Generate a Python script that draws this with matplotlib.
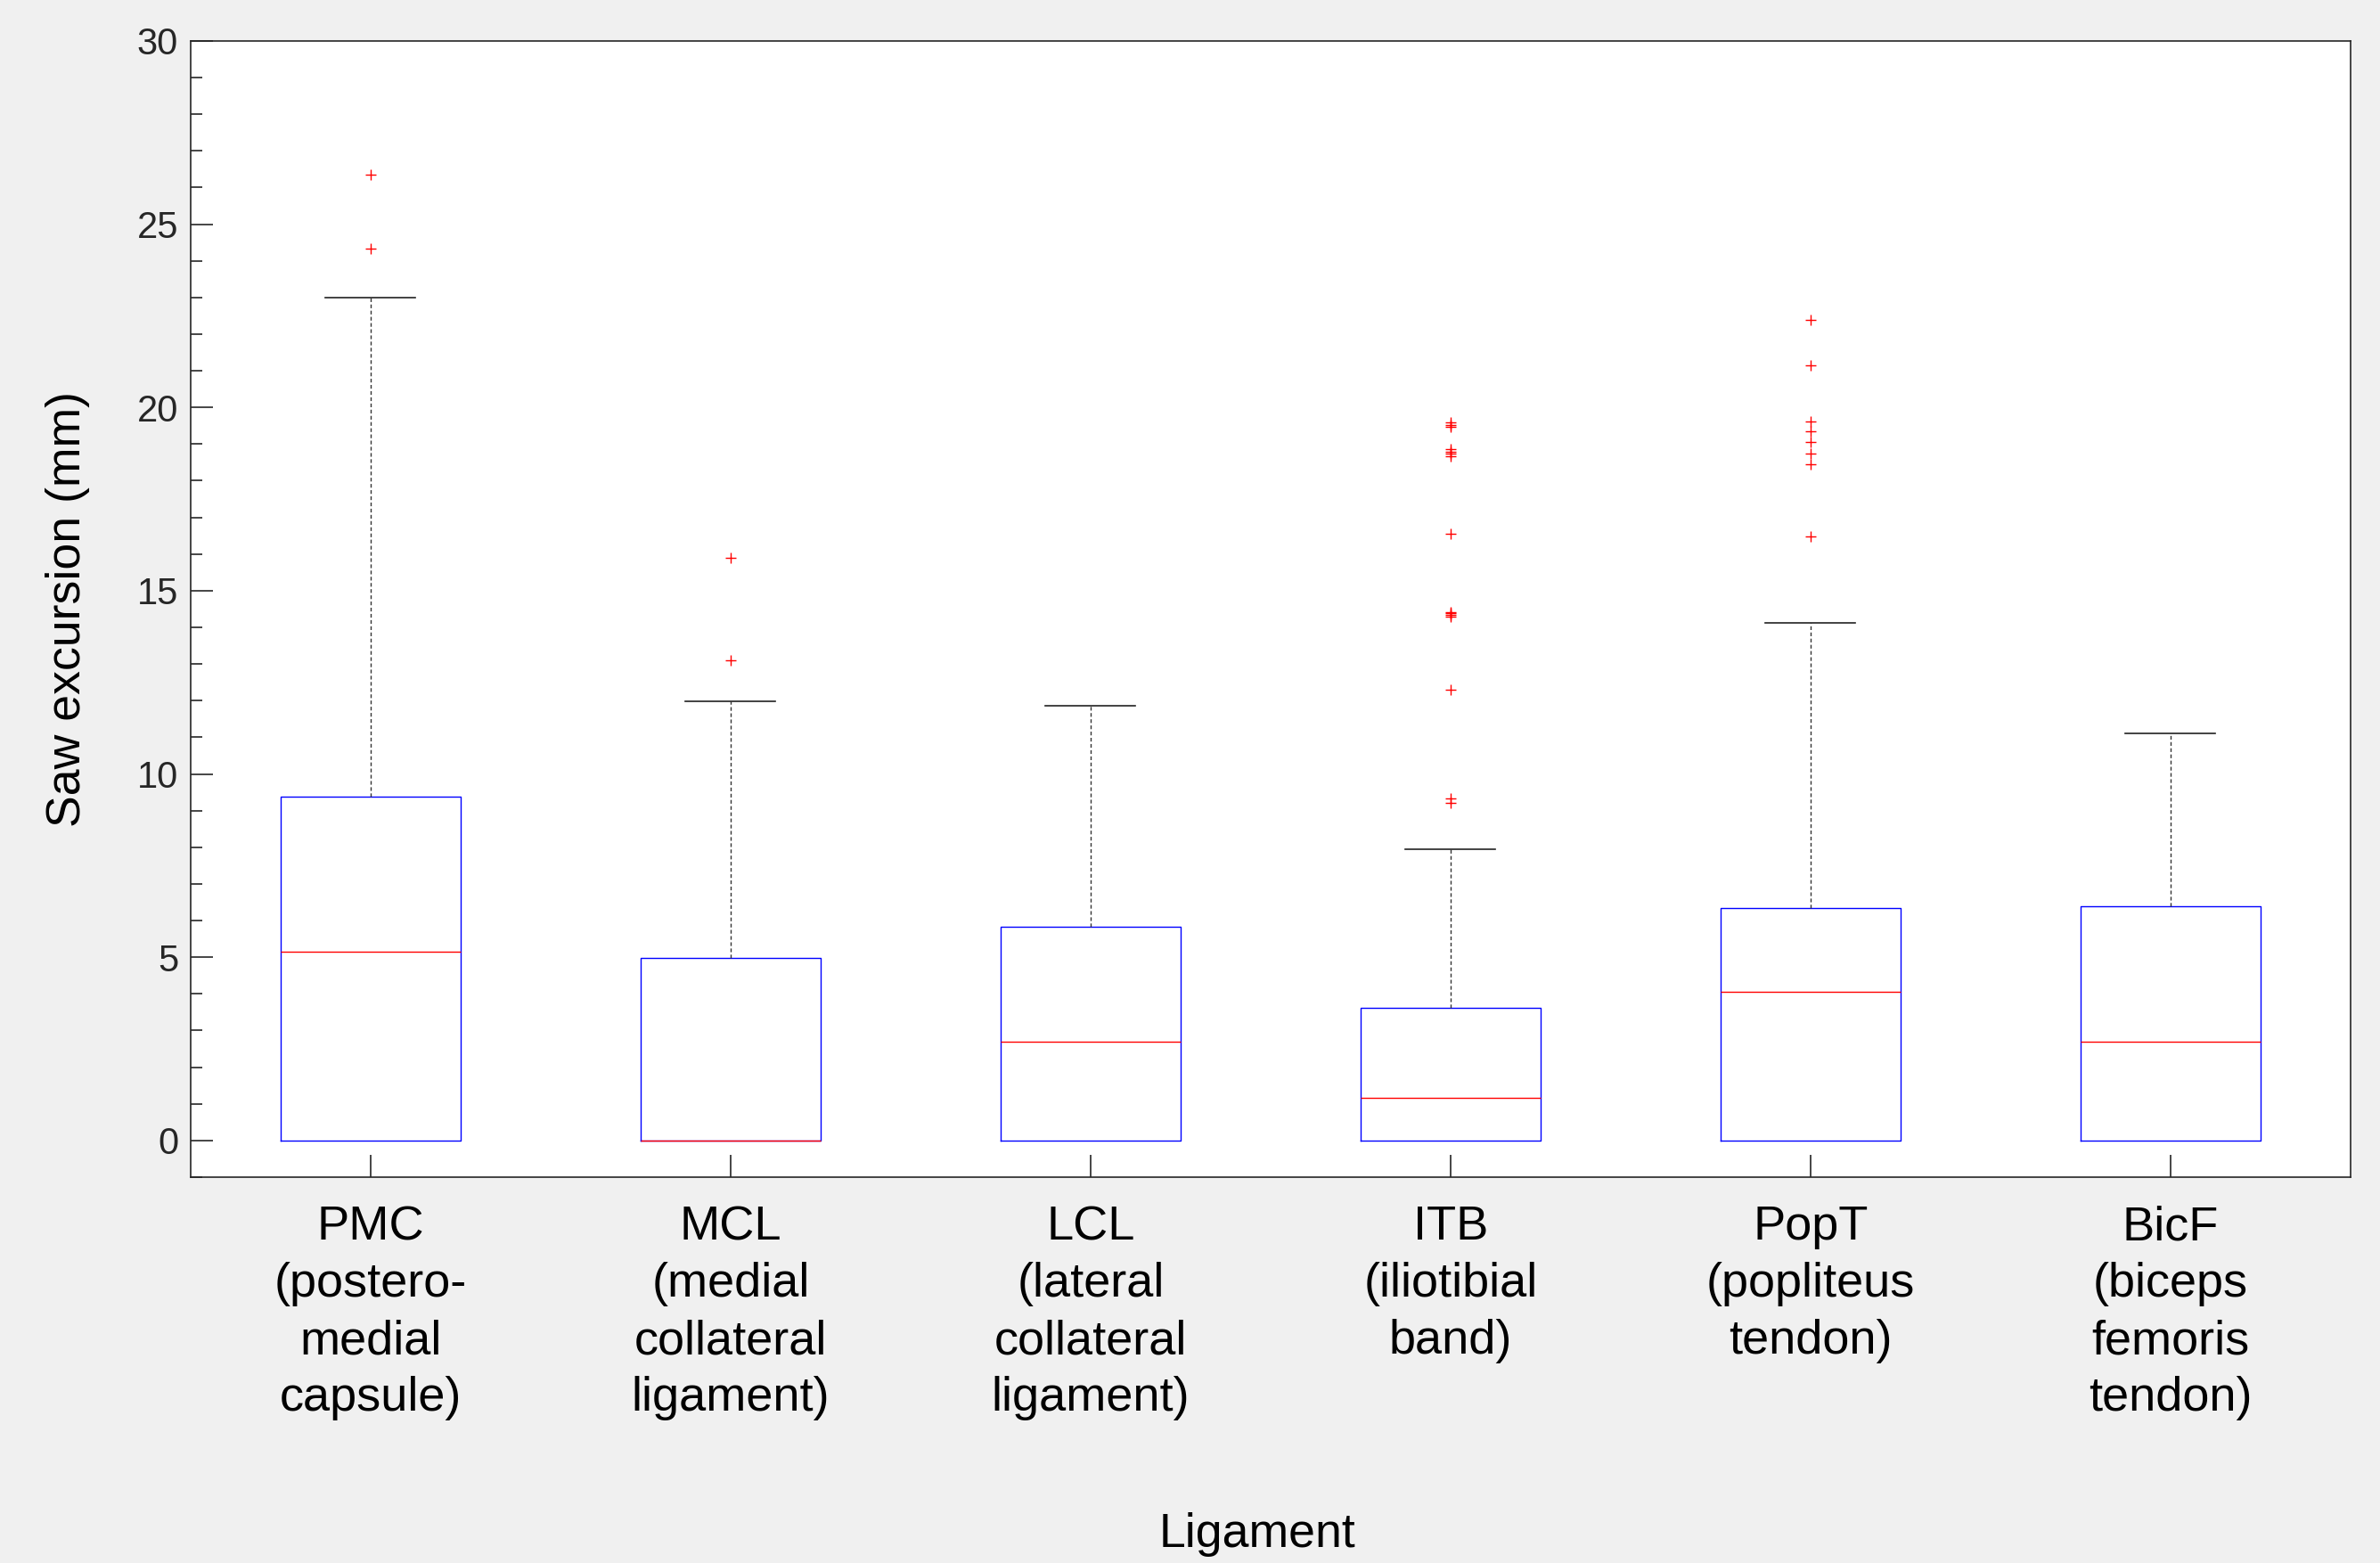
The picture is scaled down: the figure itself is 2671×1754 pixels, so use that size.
import matplotlib
matplotlib.use("Agg")
import matplotlib.pyplot as plt
from matplotlib.ticker import MultipleLocator

plt.rcParams["font.family"] = ["Liberation Sans", "DejaVu Sans"]

# ligament labels (x axis)
LABELS = [
    "PMC\n(postero-\nmedial\ncapsule)",
    "MCL\n(medial\ncollateral\nligament)",
    "LCL\n(lateral\ncollateral\nligament)",
    "ITB\n(iliotibial\nband)",
    "PopT\n(popliteus\ntendon)",
    "BicF\n(biceps\nfemoris\ntendon)",
]

# box statistics (mm)
Q1 = [0.0, 0.0, 0.0, 0.0, 0.0, 0.0]
MEDIAN = [5.14, 0.0, 2.69, 1.16, 4.06, 2.69]
Q3 = [9.37, 4.98, 5.84, 3.61, 6.34, 6.38]
WHISK_LO = [0.0, 0.0, 0.0, 0.0, 0.0, 0.0]
WHISK_HI = [22.99, 11.99, 11.85, 7.94, 14.11, 11.11]

# outliers
FLIERS_PMC = [26.34, 24.33]
FLIERS_MCL = [15.9, 13.09]
FLIERS_LCL = []
FLIERS_ITB = [19.60, 19.53, 19.47, 18.86, 18.80, 18.75, 18.68, 16.55,
              14.42, 14.38, 14.34, 14.30, 12.30, 9.34, 9.22]
FLIERS_POPT = [22.38, 21.15, 19.62, 19.34, 19.05, 18.75, 18.46, 16.47]
FLIERS_BICF = []
FLIERS = [FLIERS_PMC, FLIERS_MCL, FLIERS_LCL, FLIERS_ITB, FLIERS_POPT, FLIERS_BICF]

stats = []
for i in range(len(LABELS)):
    stats.append(dict(med=MEDIAN[i], q1=Q1[i], q3=Q3[i],
                      whislo=WHISK_LO[i], whishi=WHISK_HI[i],
                      fliers=FLIERS[i], label=LABELS[i]))

fig = plt.figure(figsize=(13.355, 8.77), dpi=200, facecolor="#f0f0f0")
ax = fig.add_axes([0.0801, 0.2469, 0.9075, 0.7269])
ax.set_facecolor("white")

parts = ax.bxp(
    stats, widths=0.5,
    boxprops=dict(color="#0000ff", linewidth=0.5),
    medianprops=dict(color="#ff0000", linewidth=0.5),
    whiskerprops=dict(color="#333333", linewidth=0.5, linestyle=(0, (3, 2))),
    capprops=dict(color="#222222", linewidth=0.6),
    flierprops=dict(marker="+", markeredgecolor="#ff0000", markersize=4.6,
                    markeredgewidth=0.5, linestyle="none"),
    capwidths=0.25,
)
# lower caps sit on the box bottom (all zero) - hidden like the original
for cap in parts["caps"][0::2]:
    cap.set_visible(False)

ax.set_xlim(0.5, 6.5)
ax.set_ylim(-1, 30)
ax.yaxis.set_major_locator(MultipleLocator(5))
ax.yaxis.set_minor_locator(MultipleLocator(1))

for s in ax.spines.values():
    s.set_color("#262626")
    s.set_linewidth(0.6)

ax.tick_params(axis="y", which="major", direction="in", length=9, width=0.6,
               color="#262626", labelsize=15, labelcolor="#262626", pad=5)
ax.tick_params(axis="y", which="minor", direction="in", length=4.7, width=0.6,
               color="#262626")
ax.tick_params(axis="x", which="major", direction="in", length=9, width=0.6,
               color="#262626", labelsize=19.5, labelcolor="black", pad=11.3)
for t in ax.get_xticklabels():
    t.set_multialignment("center")
    t.set_linespacing(1.36)

ax.set_xlabel("Ligament", fontsize=19.3, color="black")
ax.xaxis.set_label_coords(0.494, -0.295)
ax.set_ylabel("Saw excursion (mm)", fontsize=19.3, color="black", labelpad=19)

fig.savefig("out.png", dpi=200, facecolor=fig.get_facecolor())
